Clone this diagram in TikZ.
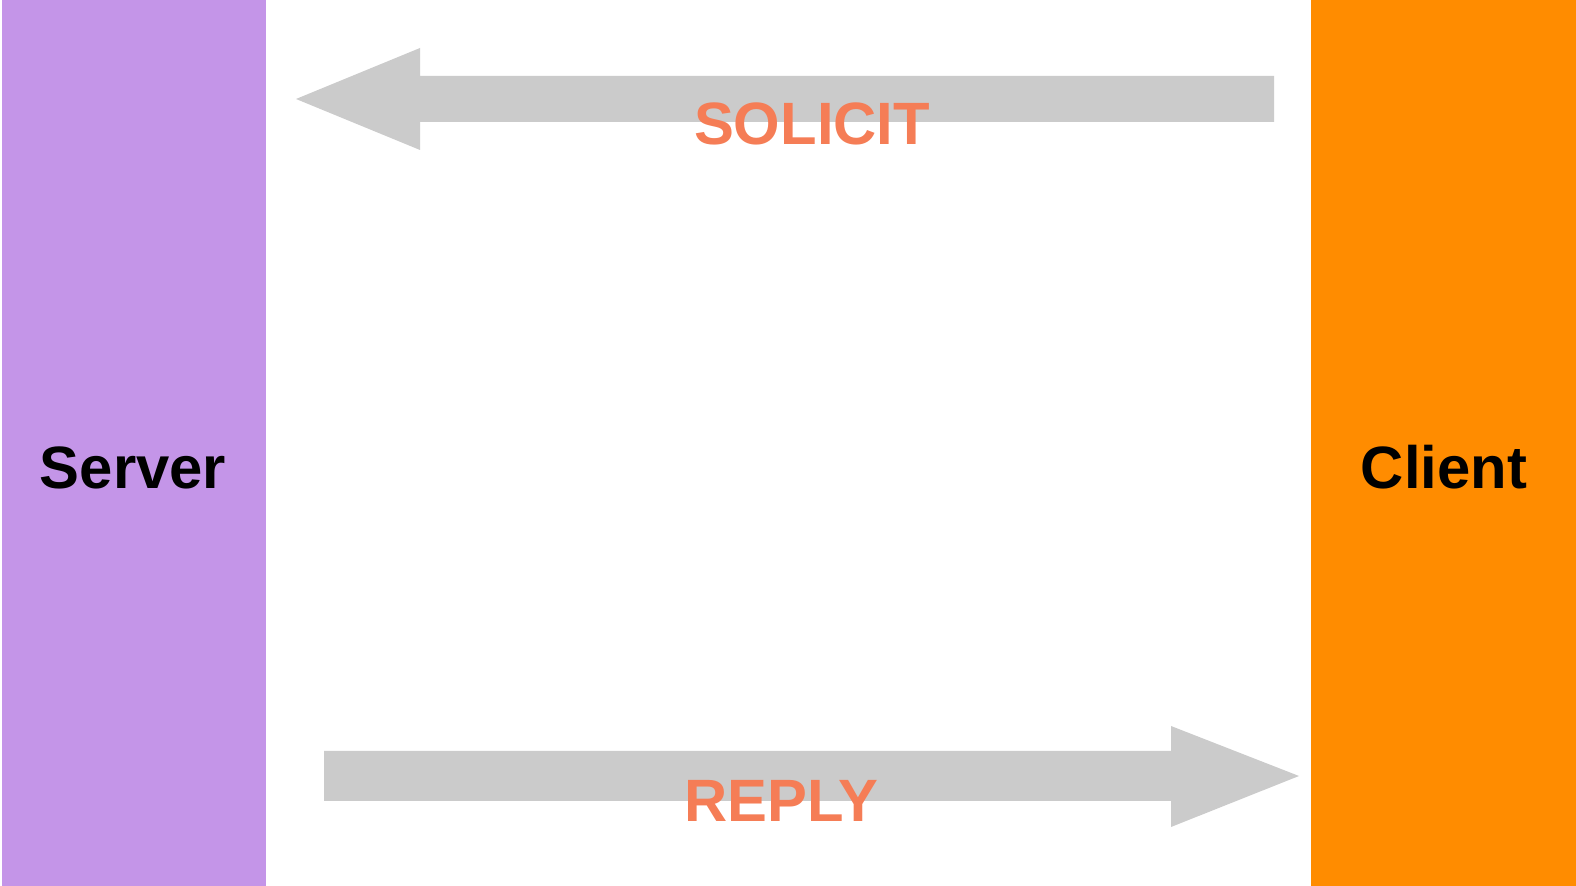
\documentclass[tikz,border=0pt]{standalone}
\usepackage{fontspec}
\setmainfont{Liberation Sans}
\definecolor{serverpurple}{RGB}{196,149,232}
\definecolor{clientorange}{RGB}{255,140,0}
\definecolor{arrowgray}{RGB}{203,203,203}
\definecolor{msgorange}{RGB}{245,125,86}
\tikzset{
  hostlabel/.style={anchor=base, inner sep=0pt, font=\bfseries\fontsize{17}{20}\selectfont},
  msglabel/.style={hostlabel, text=msgorange}
}
\begin{document}
\begin{tikzpicture}[x=0.01cm, y=-0.01cm]
      \useasboundingbox (0,0) rectangle (1576,886);

      % Server column
      \fill[serverpurple] (2,0) rectangle (266,886);
      \node[hostlabel] (server) at (133,489) {Server};

      % Client column
      \fill[clientorange] (1311,0) rectangle (1576,886);
      \node[hostlabel] (client) at (1444,489) {Client};

      % Solicit arrow
      \fill[arrowgray] (1274,76) -- (420,76) -- (420,48) -- (296,99)
        -- (420,150) -- (420,122) -- (1274,122) -- cycle;
      \node[msglabel] (solicit) at (812,145) {SOLICIT};

      % Reply arrow
      \fill[arrowgray] (324,751) -- (1171,751) -- (1171,726) -- (1299,776)
        -- (1171,827) -- (1171,801) -- (324,801) -- cycle;
      \node[msglabel] (reply) at (781,821) {REPLY};
    \end{tikzpicture}
\end{document}
